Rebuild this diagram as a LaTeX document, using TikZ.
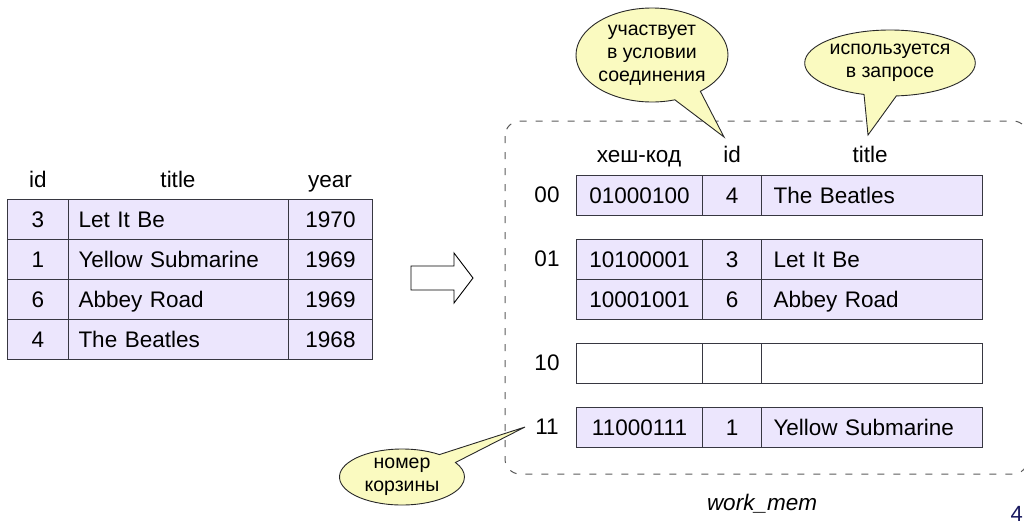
\documentclass[tikz,border=0pt]{standalone}
\usepackage{fontspec}
\setmainfont{Liberation Sans}
\usetikzlibrary{shapes.callouts}
\definecolor{cellfill}{RGB}{236,230,253}
\definecolor{cellline}{RGB}{55,55,65}
\definecolor{calloutfill}{RGB}{250,250,192}
\definecolor{calloutline}{RGB}{40,40,40}
\definecolor{boxline}{RGB}{90,90,90}
\definecolor{pagenum}{RGB}{25,25,95}
\tikzset{
  txt/.style={inner sep=0pt, font=\fontsize{22.5}{26}\selectfont, text=black,
    text height=15.5pt, text depth=0pt},
  cellc/.style={draw=cellline, line width=1pt, fill=cellfill, inner sep=0pt,
    minimum height=40pt, font=\fontsize{22.5}{26}\selectfont, anchor=north west,
    text height=15.5pt, text depth=0pt},
  celll/.style={cellc, align=left},
  emptycell/.style={cellc, fill=white},
  bubble/.style={ellipse callout, draw=calloutline, line width=0.9pt, fill=calloutfill,
    inner sep=0pt, align=center, callout pointer arc=22,
    font=\fontsize{19.5}{23}\selectfont},
  membox/.style={draw=boxline, line width=1pt, dash pattern=on 7pt off 9pt, rounded corners=15pt},
  blockarrow/.style={draw=black, line width=0.9pt, fill=white}
}
\begin{document}
\begin{tikzpicture}[x=1pt,y=-1pt]
\useasboundingbox (0,0) rectangle (1024,528);

% ---------- left table ----------
\node[txt] (hid) at (38,180) {id};
\node[txt] (htitle) at (178,180) {title};
\node[txt] (hyear) at (330,180) {year};
\foreach \r/\i/\t/\y [count=\k from 0] in {3/Let It Be/1970, 1/Yellow Submarine/1969, 6/Abbey Road/1969, 4/The Beatles/1968}{
  \node[cellc, minimum width=61pt] (L\k a) at (7,{199+40*\k}) {\r};
  \node[celll, text width=200pt, inner xsep=10pt] (L\k b) at (68,{199+40*\k}) {\i};
  \node[cellc, minimum width=84pt] (L\k c) at (288,{199+40*\k}) {\t};
}

% ---------- block arrow ----------
\coordinate (arrtip) at (473,278);
\draw[blockarrow] (411,266) -- (454,266) -- (454,253) -- (arrtip) -- (454,303) -- (454,290) -- (411,290) -- cycle;

% ---------- work_mem box ----------
\draw[membox] (505,121) rectangle (1028,474);
\node[txt, font=\fontsize{22.5}{26}\selectfont\itshape] (wm) at (762,503) {work\_mem};

% headers
\node[txt] (hh) at (639,155) {хеш-код};
\node[txt] (hhid) at (732,155) {id};
\node[txt] (hhtitle) at (870,155) {title};

% bucket labels
\node[txt] (b00) at (547,195) {00};
\node[txt] (b01) at (547,259) {01};
\node[txt] (b10) at (547,363) {10};
\node[txt] (b11) at (547,427) {11};

% rows
\foreach \top/\h/\i/\t/\n in {175/01000100/4/The Beatles/r1, 239/10100001/3/Let It Be/r2, 279/10001001/6/Abbey Road/r3, 407/11000111/1/Yellow Submarine/r5}{
  \node[cellc, minimum width=126pt] (\n a) at (576,\top) {\h};
  \node[cellc, minimum width=59pt] (\n b) at (702,\top) {\i};
  \node[celll, text width=197pt, inner xsep=12pt] (\n c) at (761,\top) {\t};
}
\node[emptycell, minimum width=126pt] (r4a) at (576,343) {};
\node[emptycell, minimum width=59pt] (r4b) at (702,343) {};
\node[emptycell, minimum width=221pt] (r4c) at (761,343) {};

% ---------- callouts ----------
\coordinate (tipid) at (724,137);
\coordinate (tiptitle) at (868,135);
\coordinate (tipbucket) at (525,427);
\node[bubble, minimum width=152pt, minimum height=94pt, callout absolute pointer={(tipid)}]
  (c1) at (652,55) {участвует\\в условии\\соединения};
\node[bubble, minimum width=137pt, minimum height=66pt, callout absolute pointer={(tiptitle)}]
  (c2) at (890,63) {используется\\в запросе};
\node[bubble, minimum width=125pt, minimum height=56pt, callout absolute pointer={(tipbucket)}]
  (c3) at (402,477) {номер\\корзины};

% page number
\node[txt, text=pagenum, anchor=base east, font=\fontsize{22}{26}\selectfont] (pg) at (1023,521) {4};
\end{tikzpicture}
\end{document}
